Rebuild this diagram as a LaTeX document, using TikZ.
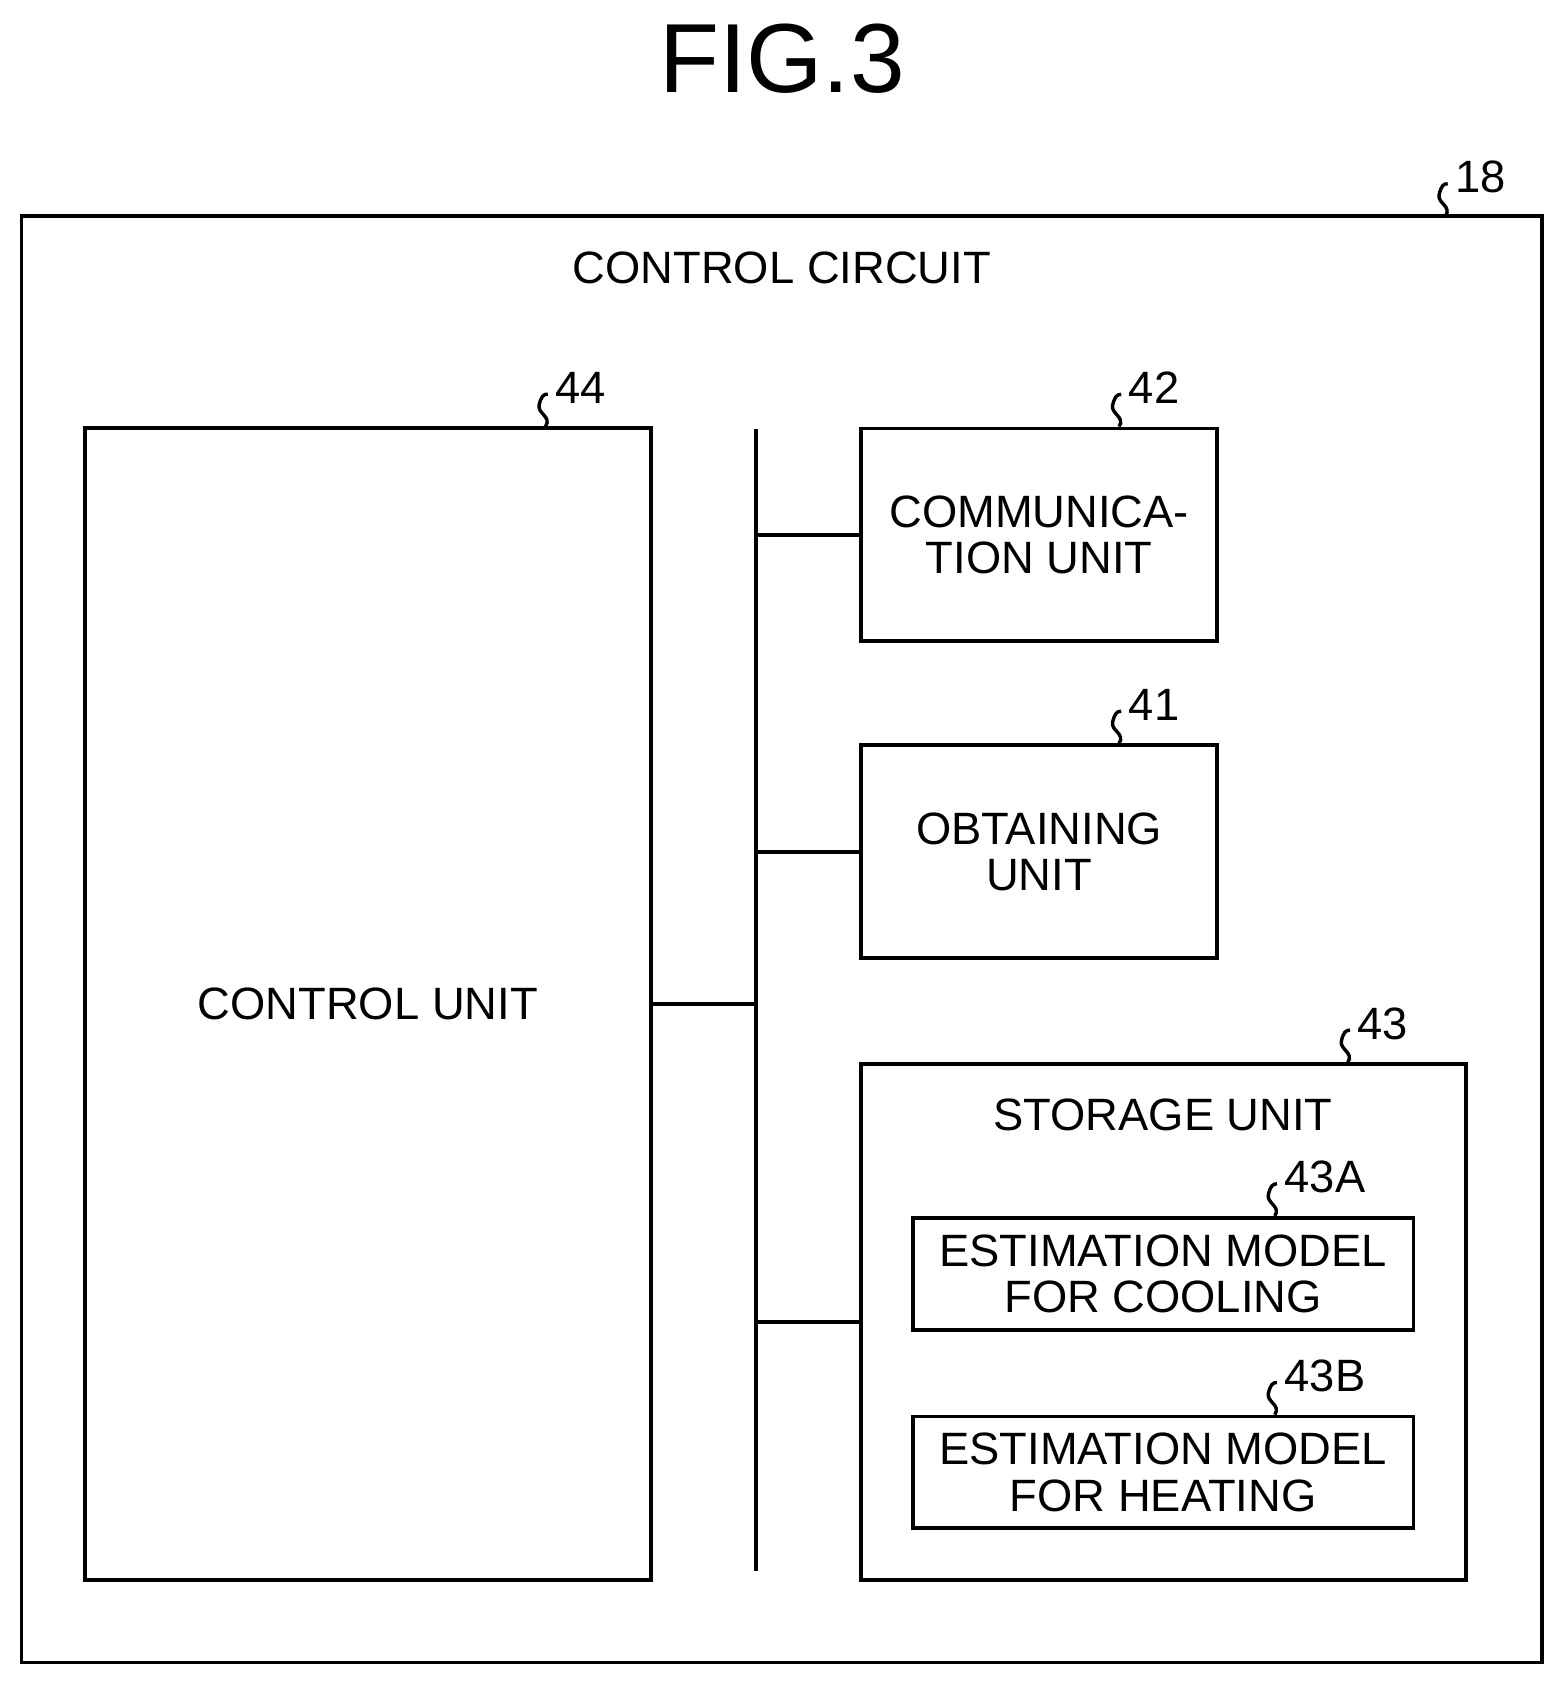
\documentclass[tikz,border=0pt]{standalone}
\usepackage{fontspec}
\setmainfont{Liberation Sans}
\usetikzlibrary{positioning}

\tikzset{
    blk/.style = {draw, line width = 1pt, inner sep = 0pt, align = center,
        font = \fontsize{12}{12.3}\selectfont},
    txt/.style = {align = center, font = \fontsize{12}{12.3}\selectfont},
    num/.style = {anchor = west, inner sep = 1pt, font = \fontsize{12}{12}\selectfont},
    wire/.style = {line width = 1pt}
}
% leader squiggle from a box edge up to its reference number
\newcommand{\refmark}[3]{%
    \draw[line width = 0.9pt] (#1) .. controls +(6,-9) and +(-2,8) .. ++(-6,-20)
        .. controls +(2,-8) and +(-4,0) .. ++(8,-10) coordinate (#2-tip);
    \node[num] at ([shift = {(3,-6)}]#2-tip) {#3};
}

\begin{document}
\begin{tikzpicture}[x = 0.01cm, y = -0.01cm]
    \useasboundingbox (0,0) rectangle (1456,1568);
    \node (fig) at (728,55) {\fontsize{26}{26}\selectfont FIG.3};

    % outer circuit
    \draw[blk] (20,201) rectangle (1436,1548);
    \node[txt] (title) at (728,249) {CONTROL CIRCUIT};
    \coordinate (m18) at (1346,201);
    \refmark{m18}{r18}{18}

    % units
    \node[blk, minimum width = 5.27cm, minimum height = 10.72cm] (ctrl) at (342.5,935) {CONTROL UNIT};
    \refmark{ctrl.north -| 508,0}{r44}{44}

    \node[blk, minimum width = 3.31cm, minimum height = 1.98cm] (comm) at (967.5,498) {COMMUNICA-\\TION UNIT};
    \refmark{comm.north -| 1042,0}{r42}{42}

    \node[blk, minimum width = 3.31cm, minimum height = 1.98cm] (obt) at (967.5,793) {OBTAINING\\UNIT};
    \refmark{obt.north -| 1042,0}{r41}{41}

    \node[blk, minimum width = 5.63cm, minimum height = 4.80cm] (stor) at (1083.5,1231) {};
    \node[txt] (storlbl) at (1083,1038) {STORAGE UNIT};
    \refmark{stor.north -| 1255,0}{r43}{43}

    \node[blk, minimum width = 4.66cm, minimum height = 1.04cm] (cool) at (1083,1186) {ESTIMATION MODEL\\FOR COOLING};
    \refmark{cool.north -| 1187,0}{r43a}{43A}

    \node[blk, minimum width = 4.66cm, minimum height = 1.04cm] (heat) at (1083,1371) {ESTIMATION MODEL\\FOR HEATING};
    \refmark{heat.north -| 1187,0}{r43b}{43B}

    % bus
    \coordinate (busT) at (704,399);
    \coordinate (busB) at (704,1463);
    \draw[wire] (busT) -- (busB);
    \draw[wire] (ctrl.east) -- (ctrl.east -| busT);
    \draw[wire] (comm.west -| busT) -- (comm.west);
    \draw[wire] (obt.west -| busT) -- (obt.west);
    \draw[wire] (stor.west -| busT) -- (stor.west);
\end{tikzpicture}
\end{document}
